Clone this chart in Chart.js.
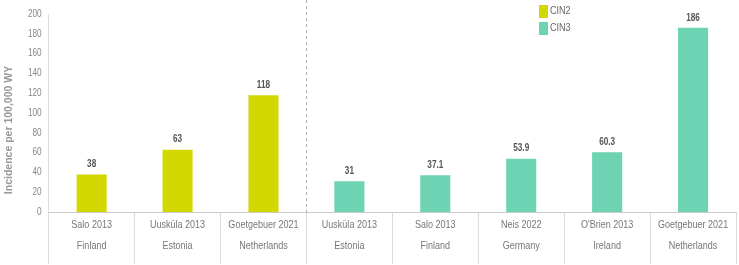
<!DOCTYPE html>
<html><head><meta charset="utf-8">
<script src="https://cdn.jsdelivr.net/npm/chart.js@4.4.1/dist/chart.umd.min.js"></script>
<style>html,body{margin:0;padding:0;background:#fff}#wrap{width:739px;height:265px;position:relative}</style>
</head><body>
<div id="wrap"><canvas id="c" width="739" height="265"></canvas></div>
<script>
const studies = ["Salo 2013","Uusküla 2013","Goetgebuer 2021","Uusküla 2013","Salo 2013","Neis 2022","O'Brien 2013","Goetgebuer 2021"];
const countries = ["Finland","Estonia","Netherlands","Estonia","Finland","Germany","Ireland","Netherlands"];
const cin2 = [38, 63, 118, null, null, null, null, null];
const cin3 = [null, null, null, 31, 37.1, 53.9, 60.3, 186];
const yTicks = [0,20,40,60,80,100,120,140,160,180,200];
const seriesNames = ["CIN2","CIN3"];
const colors = ["#d3d800","#6dd3b2"];
const yTitle = 'Incidence per 100,000 WY';

const labels = studies.map((s,i)=>[s, countries[i]]);
const FONT = "'Liberation Sans',Arial,sans-serif";
const NARROW = 0.82;

function narrowText(ctx, text, x, y, align){
  ctx.save();
  ctx.translate(x, y);
  ctx.scale(NARROW, 1);
  ctx.textAlign = align;
  ctx.fillText(text, 0, 0);
  ctx.restore();
}

const extras = {
  id:'extras',
  afterDraw(chart){
    const ctx = chart.ctx, x = chart.scales.x, y = chart.scales.y;
    ctx.save();
    // dashed separator between CIN2 and CIN3 groups
    const sep = (x.getPixelForValue(2)+x.getPixelForValue(3))/2;
    ctx.strokeStyle = '#b0b0b0'; ctx.lineWidth = 1; ctx.setLineDash([3,3]);
    ctx.beginPath(); ctx.moveTo(Math.round(sep)+0.5, 0); ctx.lineTo(Math.round(sep)+0.5, y.bottom+4); ctx.stroke();
    ctx.setLineDash([]);
    // x labels (two lines)
    ctx.fillStyle = '#777'; ctx.font = "11px " + FONT; ctx.textBaseline = 'middle';
    chart.data.labels.forEach((lab,i)=>{
      const px = x.getPixelForValue(i);
      narrowText(ctx, lab[0], px, y.bottom + 13, 'center');
      narrowText(ctx, lab[1], px, y.bottom + 34, 'center');
    });
    // y tick labels
    ctx.fillStyle = '#888'; ctx.font = "10px " + FONT;
    yTicks.forEach(v=>{
      narrowText(ctx, String(v), y.left + y.width - 7, y.getPixelForValue(v), 'right');
    });
    // y title
    ctx.save();
    ctx.translate(9, (y.top + y.bottom)/2 + 17);
    ctx.rotate(-Math.PI/2);
    ctx.fillStyle = '#999'; ctx.font = "bold 10.5px " + FONT; ctx.textAlign='center'; ctx.textBaseline='middle';
    ctx.fillText(yTitle, 0, 0);
    ctx.restore();
    // data labels
    ctx.fillStyle = '#555'; ctx.font = "bold 10px " + FONT; ctx.textBaseline='bottom';
    chart.data.datasets.forEach((ds,di)=>{
      const meta = chart.getDatasetMeta(di);
      meta.data.forEach((bar,i)=>{
        const v = ds.data[i]; if (v==null) return;
        narrowText(ctx, String(v), bar.x, bar.y - 5, 'center');
      });
    });
    // legend
    ctx.font = "11px " + FONT; ctx.textBaseline='middle';
    chart.data.datasets.forEach((ds,di)=>{
      const ly = 11 + di*17;
      ctx.fillStyle = ds.backgroundColor;
      ctx.fillRect(539, ly-6, 9, 13);
      ctx.fillStyle = '#666';
      narrowText(ctx, ds.label, 550, ly, 'left');
    });
    ctx.restore();
  }
};

new Chart(document.getElementById('c'), {
  type:'bar',
  data:{
    labels: labels,
    datasets:[
      {label:seriesNames[0], data:cin2, backgroundColor:colors[0], grouped:false, barPercentage:0.35, categoryPercentage:1},
      {label:seriesNames[1], data:cin3, backgroundColor:colors[1], grouped:false, barPercentage:0.35, categoryPercentage:1}
    ]
  },
  options:{
    responsive:false, animation:false,
    layout:{padding:{top:14,right:3,left:0,bottom:0}},
    plugins:{legend:{display:false}, tooltip:{enabled:false}},
    scales:{
      x:{
        offset:true,
        grid:{display:true, offset:true, drawOnChartArea:false, drawTicks:true, tickLength:52, color:'#dddddd'},
        border:{display:true, color:'#cccccc'},
        ticks:{color:'rgba(0,0,0,0)', font:{family:FONT, size:11, lineHeight:1.9}, padding:-49, maxRotation:0, autoSkip:false},
        afterFit(s){ s.height = 53; }
      },
      y:{
        min:0, max:200,
        afterBuildTicks(s){ s.ticks = yTicks.map(v=>({value:v})); },
        grid:{display:false, drawTicks:false},
        border:{display:true, color:'#dddddd'},
        ticks:{color:'rgba(0,0,0,0)', font:{family:FONT, size:10}, padding:8},
        title:{display:true, text:yTitle, color:'rgba(0,0,0,0)', font:{family:FONT, size:10, weight:'bold'}, padding:{top:0,bottom:4}}
      }
    }
  },
  plugins:[extras]
});
</script>
</body></html>
